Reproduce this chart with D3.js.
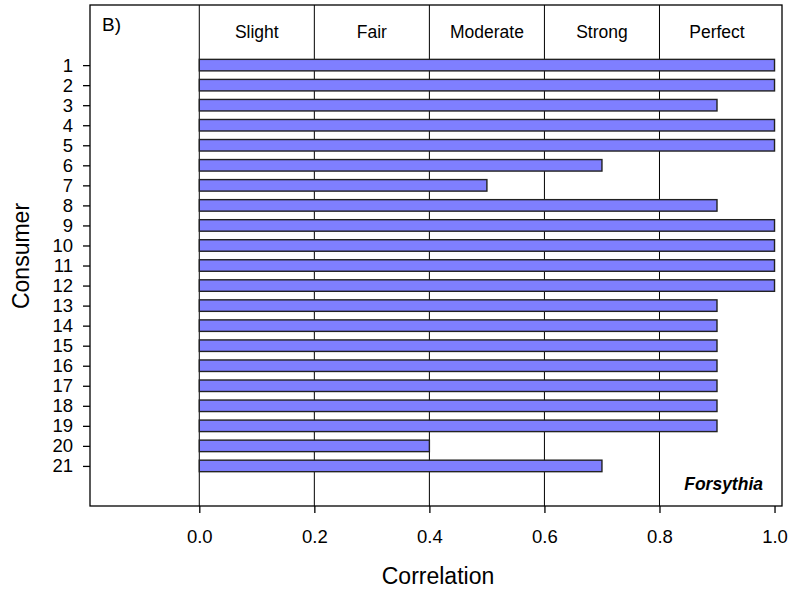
<!DOCTYPE html>
<html lang="en">
<head>
<meta charset="UTF-8">
<script src="https://cdn.jsdelivr.net/npm/d3@7"></script>
<style>
  body { margin: 0; background: #fff; font-family: Arial, "Liberation Sans", sans-serif; }
  text { fill: #000; }
</style>
</head>
<body>
<div id="chart"></div>
<script>
// consumers and their correlation values
const consumers = d3.range(1, 22);
const correlation = [1.0, 1.0, 0.9, 1.0, 1.0, 0.7, 0.5, 0.9, 1.0, 1.0, 1.0, 1.0, 0.9, 0.9, 0.9, 0.9, 0.9, 0.9, 0.9, 0.4, 0.7];
const xTicks = [0, 0.2, 0.4, 0.6, 0.8, 1.0];
const bands = ['Slight', 'Fair', 'Moderate', 'Strong', 'Perfect'];
const bandEdges = [0, 0.2, 0.4, 0.6, 0.8, 1.0];

const width = 790, height = 592;
const plotLeft = 90, plotRight = 782, plotTop = 5, plotBottom = 506;
const fontFam = 'Arial, "Liberation Sans", sans-serif';

const svg = d3.select('#chart').append('svg')
  .attr('width', width)
  .attr('height', height);

const x = d3.scaleLinear().domain([-0.19, 1.013]).range([plotLeft, plotRight]);
const y = d3.scaleLinear().domain([-2, 23]).range([plotTop, plotBottom]);

// vertical separators (no line at 1.0)
svg.selectAll('.sep')
  .data(bandEdges.slice(0, 5))
  .enter().append('line')
  .attr('x1', d => x(d)).attr('x2', d => x(d))
  .attr('y1', plotTop).attr('y2', plotBottom)
  .attr('stroke', '#000').attr('stroke-width', 1);

// band labels
svg.selectAll('.band')
  .data(bands)
  .enter().append('text')
  .attr('x', (d, i) => x((bandEdges[i] + bandEdges[i + 1]) / 2))
  .attr('y', 38)
  .attr('text-anchor', 'middle')
  .style('font-size', '17.5px')
  .text(d => d);

// bars
const barH = 11.5;
svg.selectAll('.bar')
  .data(correlation)
  .enter().append('rect')
  .attr('x', x(0))
  .attr('y', (d, i) => y(consumers[i]) - barH / 2)
  .attr('width', d => x(d) - x(0))
  .attr('height', barH)
  .attr('fill', '#7f7fff')
  .attr('stroke', '#222')
  .attr('stroke-width', 1.4);

// frame
svg.append('rect')
  .attr('x', plotLeft).attr('y', plotTop)
  .attr('width', plotRight - plotLeft).attr('height', plotBottom - plotTop)
  .attr('fill', 'none').attr('stroke', '#000').attr('stroke-width', 1.3);

// y axis
const yAxis = d3.axisLeft(y).tickValues(consumers).tickSize(7).tickPadding(10);
const gy = svg.append('g').attr('transform', `translate(${plotLeft},0)`).call(yAxis);
gy.select('.domain').remove();
gy.selectAll('line').attr('stroke', '#000').attr('stroke-width', 1.3);
gy.selectAll('text').style('font-size', '18.5px').style('font-family', fontFam).attr('fill', '#000');

// x axis
const xAxis = d3.axisBottom(x).tickValues(xTicks).tickFormat(d3.format('.1f')).tickSize(7).tickPadding(17);
const gx = svg.append('g').attr('transform', `translate(0,${plotBottom})`).call(xAxis);
gx.select('.domain').remove();
gx.selectAll('line').attr('stroke', '#000').attr('stroke-width', 1.3);
gx.selectAll('text').style('font-size', '18.5px').style('font-family', fontFam).attr('fill', '#000');

// titles
svg.append('text')
  .attr('x', 438).attr('y', 584)
  .attr('text-anchor', 'middle')
  .style('font-size', '23px')
  .text('Correlation');

svg.append('text')
  .attr('transform', `translate(29,256) rotate(-90)`)
  .attr('text-anchor', 'middle')
  .style('font-size', '23px')
  .text('Consumer');

svg.append('text')
  .attr('x', 102).attr('y', 31)
  .style('font-size', '19px')
  .text('B)');

svg.append('text')
  .attr('x', 763).attr('y', 490)
  .attr('text-anchor', 'end')
  .style('font-size', '17.5px')
  .style('font-weight', 'bold')
  .style('font-style', 'italic')
  .text('Forsythia');
</script>
</body>
</html>
